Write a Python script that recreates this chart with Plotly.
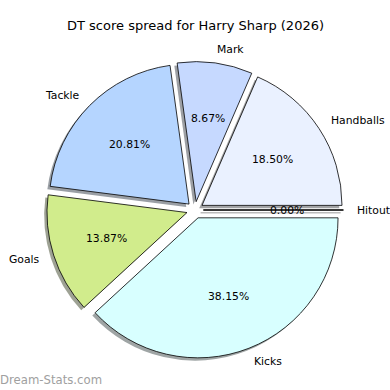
import math
import plotly.graph_objects as go

# ---- data ----
labels = ["Handballs", "Mark", "Tackle", "Goals", "Kicks", "Hitout"]
values = [64, 30, 72, 48, 132, 0]
colors = ["#eaf1ff", "#c6d9ff", "#b5d5ff", "#d1ec8c", "#d8ffff", "#ffd0d0"]
title_text = "DT score spread for Harry Sharp (2026)"
watermark = "Dream-Stats.com"

# ---- geometry (pixels) ----
W = H = 390
CX, CY = 195.0, 210.0
R = 140.0
PULL = 0.06
SH = 2.8  # shadow offset
FONT = "DejaVu Sans"

def px2paper(x, y):
    return x / W, 1 - y / H

total = float(sum(values))
B = 2 * R * (1 + PULL)
# plotly puts the first slice clockwise of `rotation` when counterclockwise,
# so start the first slice at 3 o'clock going counterclockwise:
ROT = 90 - 360.0 * values[0] / total

def domain(dx=0.0, dy=0.0):
    x0, x1 = (CX + dx - B / 2) / W, (CX + dx + B / 2) / W
    y0, y1 = 1 - (CY + dy + B / 2) / H, 1 - (CY + dy - B / 2) / H
    return dict(x=[x0, x1], y=[y0, y1])

def shade(hexc):
    h = hexc.lstrip("#")
    r, g, b = (int(h[i:i + 2], 16) for i in (0, 2, 4))
    return "rgba(%d,%d,%d,0.5)" % (r * 0.3, g * 0.3, b * 0.3)

fig = go.Figure()
fig.add_trace(go.Pie(
    labels=labels, values=values, sort=False, direction="counterclockwise",
    rotation=ROT, pull=[PULL] * len(values), textinfo="none", hoverinfo="skip",
    marker=dict(colors=[shade(c) for c in colors], line=dict(width=0)),
    domain=domain(-SH, SH), showlegend=False,
))
fig.add_trace(go.Pie(
    labels=labels, values=values, sort=False, direction="counterclockwise",
    rotation=ROT, pull=[PULL] * len(values), textinfo="none", hoverinfo="skip",
    marker=dict(colors=colors, line=dict(color="black", width=0.8)),
    domain=domain(), showlegend=False,
))

annotations = []
shapes = []
start = 0.0
for lab, v, c in zip(labels, values, colors):
    span = 360.0 * v / total
    mid = math.radians(start + span / 2)
    ox = CX + PULL * R * math.cos(mid)
    oy = CY - PULL * R * math.sin(mid)
    # label
    lx = ox + 1.1 * R * math.cos(mid)
    ly = oy - 1.1 * R * math.sin(mid)
    x, y = px2paper(lx, ly)
    annotations.append(dict(
        x=x, y=y, xref="paper", yref="paper", text=lab, showarrow=False,
        xanchor="left" if math.cos(mid) > 0 else "right", yanchor="middle",
        borderpad=0, borderwidth=0,
        font=dict(family=FONT, size=10.8, color="black"),
    ))
    # percent
    tx = ox + 0.6 * R * math.cos(mid)
    ty = oy - 0.6 * R * math.sin(mid)
    x, y = px2paper(tx, ty)
    annotations.append(dict(
        x=x, y=y, xref="paper", yref="paper", text="%.2f%%" % (100 * v / total),
        showarrow=False, xanchor="center", yanchor="middle",
        borderpad=0, borderwidth=0,
        font=dict(family=FONT, size=10.8, color="black"),
    ))
    if v == 0:
        ex = ox + R * math.cos(mid)
        ey = oy - R * math.sin(mid)
        for dx, dy, col, wd in ((-SH, SH, "rgba(120,120,120,0.5)", 1.6), (0, 0, "black", 0.8)):
            x0, y0 = px2paper(ox + dx, oy + dy)
            x1, y1 = px2paper(ex + dx, ey + dy)
            shapes.append(dict(type="line", xref="paper", yref="paper",
                               x0=x0, y0=y0, x1=x1, y1=y1,
                               line=dict(color=col, width=wd), layer="above"))
    start += span

annotations.append(dict(
    x=0, y=1 - 380 / H, xref="paper", yref="paper", text=watermark, showarrow=False,
    xanchor="left", yanchor="middle", borderpad=0, borderwidth=0,
    font=dict(family=FONT, size=11.7, color="#a0a0a0"),
))
tx, ty = px2paper(195, 26)
annotations.append(dict(
    x=tx, y=ty, xref="paper", yref="paper", text=title_text, showarrow=False,
    xanchor="center", yanchor="middle",
    font=dict(family=FONT, size=13, color="black"),
))

fig.update_layout(
    width=W, height=H, margin=dict(l=0, r=0, t=0, b=0),
    paper_bgcolor="white", plot_bgcolor="white",
    annotations=annotations, shapes=shapes,
)
fig.write_html("out.html", config={"displayModeBar": False},
               post_script="document.body.style.margin='0';")
